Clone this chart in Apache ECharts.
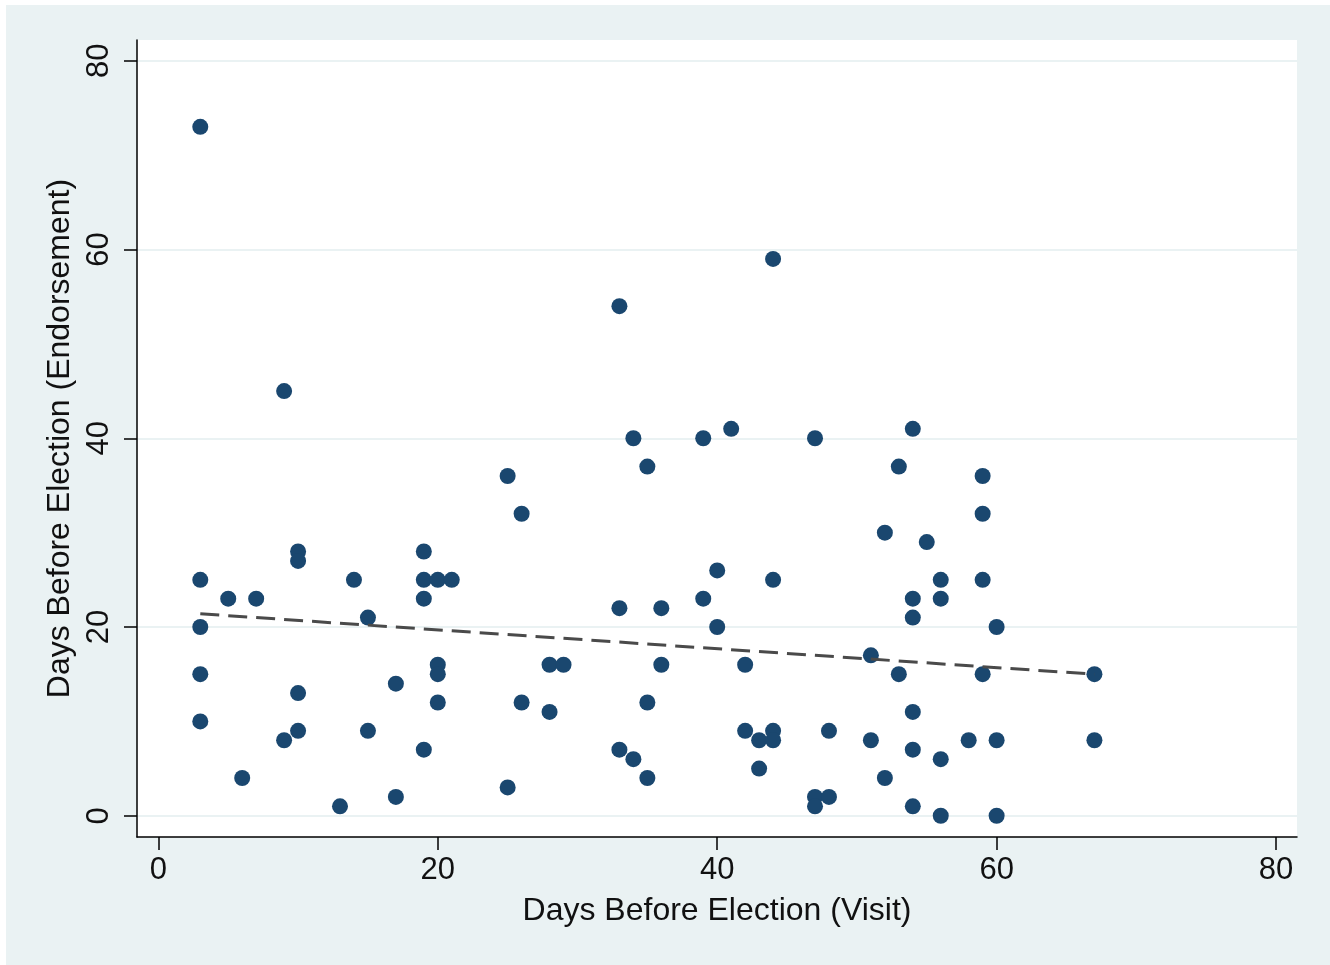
<!DOCTYPE html>
<html lang="en">
  <head>
    <meta charset="UTF-8" />
    <title>Days Before Election</title>
    <script src="https://cdn.jsdelivr.net/npm/echarts@6/dist/echarts.min.js"></script>
    <style>
      html,
      body {
        margin: 0;
        padding: 0;
        background: #fff;
      }
      /* stata-like outer area, small white border at top/left */
      #main {
        position: absolute;
        left: 6px;
        top: 5px;
        width: 1324px;
        height: 960px;
      }
    </style>
  </head>
  <body>
    <div id="main"></div>
    <script>
      // days before election of the visit (x) and of the endorsement (y)
      const visitDays = [
        3, 3, 3, 3, 3, 5, 6, 7, 9, 9, 10, 10, 10, 10, 13, 14, 15, 15, 17, 17,
        19, 19, 19, 19, 20, 20, 20, 20, 21, 25, 25, 26, 26, 28, 28, 29, 33, 33,
        33, 34, 34, 35, 35, 35, 36, 36, 39, 39, 40, 40, 41, 42, 42, 43, 43, 44,
        44, 44, 44, 47, 47, 47, 48, 48, 51, 51, 52, 52, 53, 53, 54, 54, 54, 54,
        54, 54, 55, 56, 56, 56, 56, 58, 59, 59, 59, 59, 60, 60, 60, 67, 67,
      ];
      const endorseDays = [
        73, 25, 20, 15, 10, 23, 4, 23, 45, 8, 28, 27, 13, 9, 1, 25, 21, 9, 14, 2,
        28, 25, 23, 7, 25, 16, 15, 12, 25, 36, 3, 32, 12, 16, 11, 16, 54, 22,
        7, 40, 6, 37, 12, 4, 22, 16, 40, 23, 26, 20, 41, 16, 9, 8, 5, 59,
        25, 9, 8, 40, 2, 1, 9, 2, 17, 8, 30, 4, 37, 15, 41, 23, 21, 11,
        7, 1, 29, 25, 23, 6, 0, 8, 36, 32, 25, 15, 20, 8, 0, 15, 8,
      ];

      // fitted line, end points
      const fitX = [3, 67];
      const fitY = [21.4, 15.0];

      const tickValues = [0, 20, 40, 60, 80];

      const points = visitDays.map((d, i) => [d, endorseDays[i]]);
      const fitLine = fitX.map((d, i) => [d, fitY[i]]);

      const font = "'Liberation Sans', Arial, sans-serif";
      const textColor = "#111";

      const chartDom = document.getElementById("main");
      const myChart = echarts.init(chartDom);

      const axisCommon = {
        type: "value",
        nameLocation: "middle",
        nameGap: 60,
        nameTextStyle: { fontSize: 32, color: textColor, fontFamily: font },
        axisLine: {
          show: true,
          onZero: false,
          lineStyle: { color: "#000", width: 1.5 },
        },
        axisTick: {
          show: true,
          length: 13,
          customValues: tickValues,
          lineStyle: { color: "#000", width: 1.5 },
        },
        axisLabel: {
          customValues: tickValues,
          fontSize: 31,
          color: textColor,
          fontFamily: font,
        },
        splitLine: {
          show: true,
          lineStyle: { color: "#eaf2f3", width: 2 },
        },
      };

      const option = {
        backgroundColor: "#eaf2f3",
        animation: false,
        grid: {
          left: 131,
          top: 35,
          right: 33,
          bottom: 128,
          show: true,
          backgroundColor: "#fff",
          borderWidth: 0,
        },
        xAxis: Object.assign({}, axisCommon, {
          name: "Days Before Election (Visit)",
          min: -1.53,
          max: 81.5,
          nameGap: 58,
          splitLine: { show: false },
          axisLabel: Object.assign({}, axisCommon.axisLabel, { margin: 18 }),
        }),
        yAxis: Object.assign({}, axisCommon, {
          name: "Days Before Election (Endorsement)",
          min: -2.25,
          max: 82.2,
          nameGap: 58,
          axisLabel: Object.assign({}, axisCommon.axisLabel, {
            rotate: 90,
            margin: 22,
          }),
        }),
        series: [
          {
            type: "scatter",
            data: points,
            symbol: "circle",
            symbolSize: 16,
            itemStyle: { color: "#1a476f", opacity: 1 },
          },
          {
            type: "line",
            data: fitLine,
            showSymbol: false,
            symbol: "none",
            lineStyle: {
              color: "#4a4a4a",
              width: 3,
              type: [19, 9],
            },
          },
        ],
      };

      myChart.setOption(option);
    </script>
  </body>
</html>
